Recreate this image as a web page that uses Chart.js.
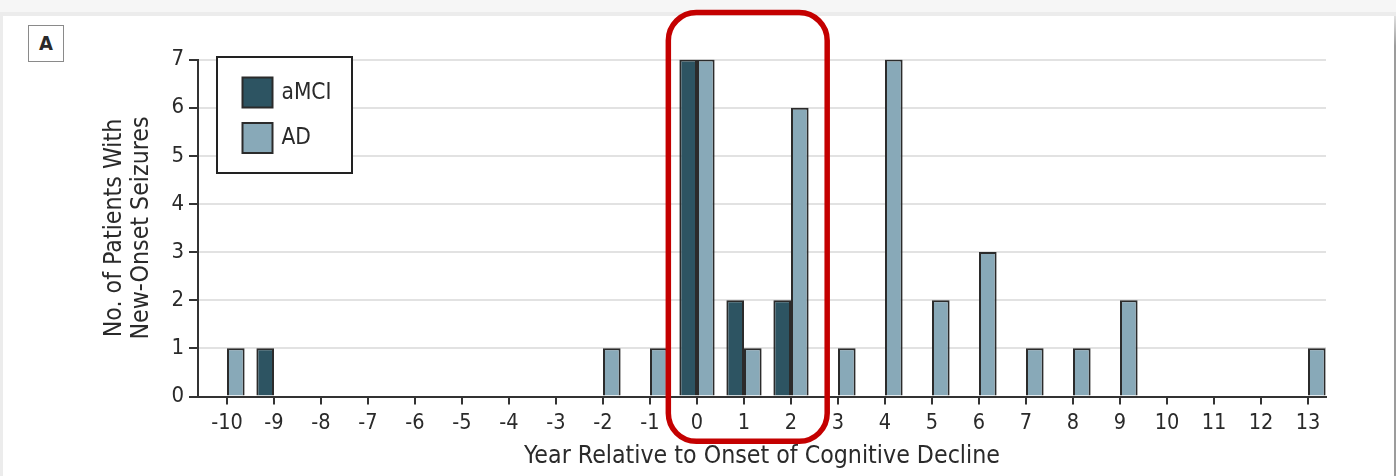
<!DOCTYPE html>
<html>
<head>
<meta charset="utf-8">
<title>New-Onset Seizures by Year Relative to Cognitive Decline</title>
<script src="https://cdn.jsdelivr.net/npm/chart.js@4.4.1/dist/chart.umd.min.js"></script>
<style>
  html, body { margin: 0; padding: 0; width: 1396px; height: 476px; overflow: hidden; background: #f6f6f6; }
  #band { position: absolute; left: 0; top: 12px; width: 1396px; height: 4px; background: #ececec; }
  #panel { position: absolute; left: 3px; top: 16px; width: 1391px; height: 460px; background: #ffffff; }
  #edge { position: absolute; left: 1394px; top: 16px; width: 2px; height: 460px;
          background: linear-gradient(#e0e0e0 0px, #9c9c9c 30px, #9c9c9c 100%); }
  #leftedge { position: absolute; left: 0; top: 16px; width: 3px; height: 460px; background: #ececec; }
  #panelTag { position: absolute; left: 28px; top: 25px; width: 34px; height: 35px;
              border: 1.5px solid #8a8a8a; background: #fff;
              font: bold 20px "DejaVu Sans Condensed", "Liberation Sans Narrow", sans-serif;
              color: #2a2a2a; text-align: center; line-height: 35px; }
  #wrap { position: absolute; left: 0; top: 0; width: 1396px; height: 476px; }
</style>
</head>
<body>
<div id="band"></div>
<div id="leftedge"></div>
<div id="panel"></div>
<div id="edge"></div>
<div id="panelTag">A</div>
<div id="wrap"><canvas id="chart"></canvas></div>
<script>
// Year relative to onset of cognitive decline
const years = [-10, -9, -8, -7, -6, -5, -4, -3, -2, -1, 0, 1, 2, 3, 4, 5, 6, 7, 8, 9, 10, 11, 12, 13];
// Number of patients with new-onset seizures
const amciCounts = [0, 1, 0, 0, 0, 0, 0, 0, 0, 0, 7, 2, 2, 0, 0, 0, 0, 0, 0, 0, 0, 0, 0, 0];
const adCounts   = [1, 0, 0, 0, 0, 0, 0, 0, 1, 1, 7, 1, 6, 1, 7, 2, 3, 1, 1, 2, 0, 0, 0, 1];
const seriesNames = ['aMCI', 'AD'];
const yTickValues = [0, 1, 2, 3, 4, 5, 6, 7];
// Years outlined by the highlight frame
const highlightYears = [0, 1, 2];

const FONT = '"DejaVu Sans Condensed", "Liberation Sans Narrow", sans-serif';
const INK = '#2a2a2a';
const COLORS = ['#2d5462', '#88a9b8'];

// Boxed legend drawn inside the plot, top-left
const boxedLegend = {
  id: 'boxedLegend',
  afterDatasetsDraw(chart) {
    const { ctx, chartArea } = chart;
    const x0 = chartArea.left + 19, y0 = chartArea.top - 2.5;
    const w = 135, h = 116;
    ctx.save();
    ctx.fillStyle = '#ffffff';
    ctx.fillRect(x0, y0, w, h);
    ctx.lineWidth = 2;
    ctx.strokeStyle = '#222';
    ctx.strokeRect(x0, y0, w, h);
    ctx.font = '22.5px ' + FONT;
    ctx.textBaseline = 'middle';
    chart.data.datasets.forEach((ds, i) => {
      const sx = x0 + 25.5, sy = y0 + 20.5 + i * 45.5;
      ctx.fillStyle = ds.backgroundColor;
      ctx.fillRect(sx, sy, 30, 30);
      ctx.lineWidth = 2;
      ctx.strokeStyle = '#2b2b2b';
      ctx.strokeRect(sx, sy, 30, 30);
      ctx.fillStyle = INK;
      ctx.fillText(ds.label, sx + 39, sy + 15.5);
    });
    ctx.restore();
  }
};

// Rounded red frame around the highlighted years
const highlightFrame = {
  id: 'highlightFrame',
  afterDraw(chart) {
    const { ctx } = chart;
    const xs = chart.scales.x;
    const first = highlightYears[0], last = highlightYears[highlightYears.length - 1];
    const left = xs.getPixelForValue(first - 0.61);
    const right = xs.getPixelForValue(last + 0.77);
    const top = 12.5, bottom = 441.3, r = 28;
    ctx.save();
    ctx.strokeStyle = '#c40000';
    ctx.lineWidth = 5.5;
    ctx.beginPath();
    ctx.moveTo(left + r, top);
    ctx.lineTo(right - r, top);
    ctx.arcTo(right, top, right, top + r, r);
    ctx.lineTo(right, bottom - r);
    ctx.arcTo(right, bottom, right - r, bottom, r);
    ctx.lineTo(left + r, bottom);
    ctx.arcTo(left, bottom, left, bottom - r, r);
    ctx.lineTo(left, top + r);
    ctx.arcTo(left, top, left + r, top, r);
    ctx.closePath();
    ctx.stroke();
    ctx.restore();
  }
};

new Chart(document.getElementById('chart'), {
  type: 'bar',
  data: {
    labels: years,
    datasets: [
      { label: seriesNames[0], data: amciCounts, backgroundColor: COLORS[0] },
      { label: seriesNames[1], data: adCounts, backgroundColor: COLORS[1] }
    ]
  },
  options: {
    responsive: true,
    maintainAspectRatio: false,
    animation: false,
    layout: { padding: { left: 0, right: 70, top: 59.5, bottom: 0 } },
    datasets: {
      bar: {
        categoryPercentage: 0.75,
        barPercentage: 1.0,
        borderColor: '#2b2b2b',
        borderWidth: 2,
        borderSkipped: 'bottom'
      }
    },
    plugins: {
      legend: { display: false },
      tooltip: { enabled: false }
    },
    scales: {
      x: {
        type: 'linear',
        offset: false,
        min: years[0] - 0.617,
        max: years[years.length - 1] + 0.383,
        afterFit(scale) { scale.height = 79.5; },
        afterBuildTicks(scale) { scale.ticks = years.map(v => ({ value: v })); },
        grid: {
          offset: false,
          drawOnChartArea: false,
          drawTicks: true,
          tickLength: 8,
          tickColor: '#333',
          lineWidth: 2
        },
        border: { display: true, color: '#333', width: 2 },
        ticks: {
          autoSkip: false,
          maxRotation: 0,
          padding: 6,
          color: INK,
          font: { family: FONT, size: 21.5 }
        },
        title: {
          display: true,
          text: 'Year Relative to Onset of Cognitive Decline',
          color: INK,
          font: { family: FONT, size: 24.7, lineHeight: 1.15 },
          padding: { top: 0, bottom: 5 }
        }
      },
      y: {
        min: 0,
        max: 7,
        afterFit(scale) { scale.width = 198; },
        afterBuildTicks(scale) { scale.ticks = yTickValues.map(v => ({ value: v })); },
        grid: {
          color: '#e2e2e2',
          lineWidth: 2,
          drawTicks: true,
          tickLength: 9,
          tickColor: '#333'
        },
        border: { display: true, color: '#333', width: 2 },
        ticks: {
          padding: 5,
          color: INK,
          font: { family: FONT, size: 22 }
        },
        title: {
          display: true,
          text: ['No. of Patients With', 'New-Onset Seizures'],
          color: INK,
          font: { family: FONT, size: 24.7, lineHeight: '27px' },
          padding: { top: 101.5, bottom: 0 }
        }
      }
    }
  },
  plugins: [boxedLegend, highlightFrame]
});
</script>
</body>
</html>
